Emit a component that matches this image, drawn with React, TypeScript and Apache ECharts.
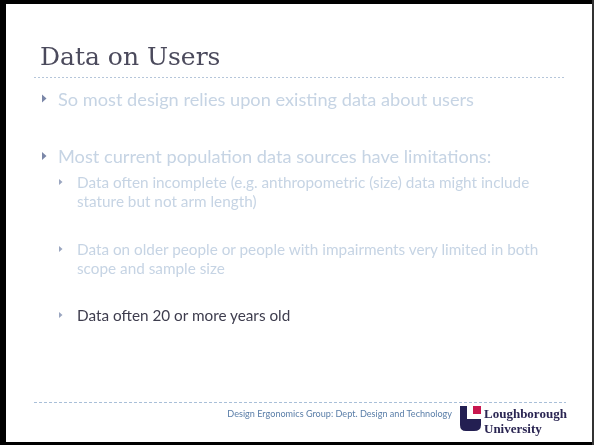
import React, { useEffect, useRef } from "react";
import * as echarts from "echarts";

const title = "Data on Users";
const mainBullets = [
  "So most design relies upon existing data about users",
  "Most current population data sources have limitations:",
];
const subBullets = [
  ["Data often incomplete (e.g. anthropometric (size) data might include", "stature but not arm length)"],
  ["Data on older people or people with impairments very limited in both", "scope and sample size"],
  ["Data often 20 or more years old"],
];
const footerText = "Design Ergonomics Group: Dept. Design and Technology";
const logoLines = ["Loughborough", "University"];

const mainY = [98.5, 156];
const subY = [182, 249, 315];
const subLineGap = 19;

export default function App() {
  const ref = useRef<HTMLDivElement>(null);
  useEffect(() => {
    document.body.style.margin = "0";
    echarts.graphic.registerShape(
      "lboroLogo",
      echarts.graphic.extendPath("M0 0 H7 V13 H21 V19 Q21 25 14 25 H6 Q0 25 0 19 Z", {})
    );
    const chart = echarts.init(ref.current!, null, { renderer: "svg" });
    const body = "Lato, 'Open Sans', sans-serif";
    const light = "#c6d4e4";
    const tri = "#7b87a8";
    const elements: any[] = [];
    // frame
    elements.push({ type: "rect", shape: { x: 0, y: 0, width: 594, height: 445 }, style: { fill: "#ffffff" }, z: 0 });
    elements.push({ type: "rect", shape: { x: 0, y: 0, width: 594, height: 4 }, style: { fill: "#000" } });
    elements.push({ type: "rect", shape: { x: 0, y: 0, width: 6, height: 445 }, style: { fill: "#000" } });
    elements.push({ type: "rect", shape: { x: 0, y: 442, width: 594, height: 3 }, style: { fill: "#000" } });
    elements.push({ type: "rect", shape: { x: 592, y: 0, width: 2, height: 445 }, style: { fill: "#333" } });
    // title
    elements.push({
      type: "text", x: 40, y: 69,
      style: { text: title, font: "25px 'DejaVu Serif', serif", fill: "#4b4a5c", textVerticalAlign: "bottom", textBaseline: "bottom" },
    });
    elements.push({
      type: "line", shape: { x1: 34, y1: 77.5, x2: 566, y2: 77.5 },
      style: { stroke: "#b5c6da", lineWidth: 1, lineDash: [2, 2] },
    });
    // main bullets
    mainBullets.forEach((t, i) => {
      const y = mainY[i];
      elements.push({ type: "polygon", shape: { points: [[42, y - 4], [46.5, y], [42, y + 4]] }, style: { fill: tri } });
      elements.push({ type: "text", x: 58, y, style: { text: t, font: `18.2px ${body}`, fill: light, textVerticalAlign: "middle", textBaseline: "middle" } });
    });
    subBullets.forEach((lines, i) => {
      const y = subY[i];
      const col = i === 2 ? "#3e3d4e" : light;
      elements.push({ type: "polygon", shape: { points: [[59, y - 3], [62.5, y], [59, y + 3]] }, style: { fill: "#9aa6c0" } });
      lines.forEach((t, j) => {
        elements.push({ type: "text", x: 77, y: y + j * subLineGap, style: { text: t, font: `15.3px ${body}`, fill: col, textVerticalAlign: "middle", textBaseline: "middle" } });
      });
    });
    // footer
    elements.push({
      type: "line", shape: { x1: 34, y1: 402.5, x2: 566, y2: 402.5 },
      style: { stroke: "#a9bfd8", lineWidth: 1, lineDash: [3, 2] },
    });
    elements.push({
      type: "text", x: 452, y: 413,
      style: { text: footerText, font: `9.1px ${body}`, fill: "#5a7ea8", textAlign: "right", textVerticalAlign: "middle", textBaseline: "middle" },
    });
    elements.push({ type: "lboroLogo", x: 460, y: 406, style: { fill: "#231f52" } });
    elements.push({ type: "rect", shape: { x: 473, y: 406, width: 8, height: 8 }, style: { fill: "#c8174f" } });
    logoLines.forEach((t, j) => {
      elements.push({
        type: "text", x: 484, y: 413 + j * 15,
        style: { text: t, font: `bold 13px 'Liberation Serif', serif`, fill: "#2a2552", textVerticalAlign: "middle", textBaseline: "middle" },
      });
    });
    chart.setOption({ animation: false, graphic: { elements } });
    return () => chart.dispose();
  }, []);
  return <div ref={ref} style={{ position: "fixed", left: 0, top: 0, width: 594, height: 445 }} />;
}
